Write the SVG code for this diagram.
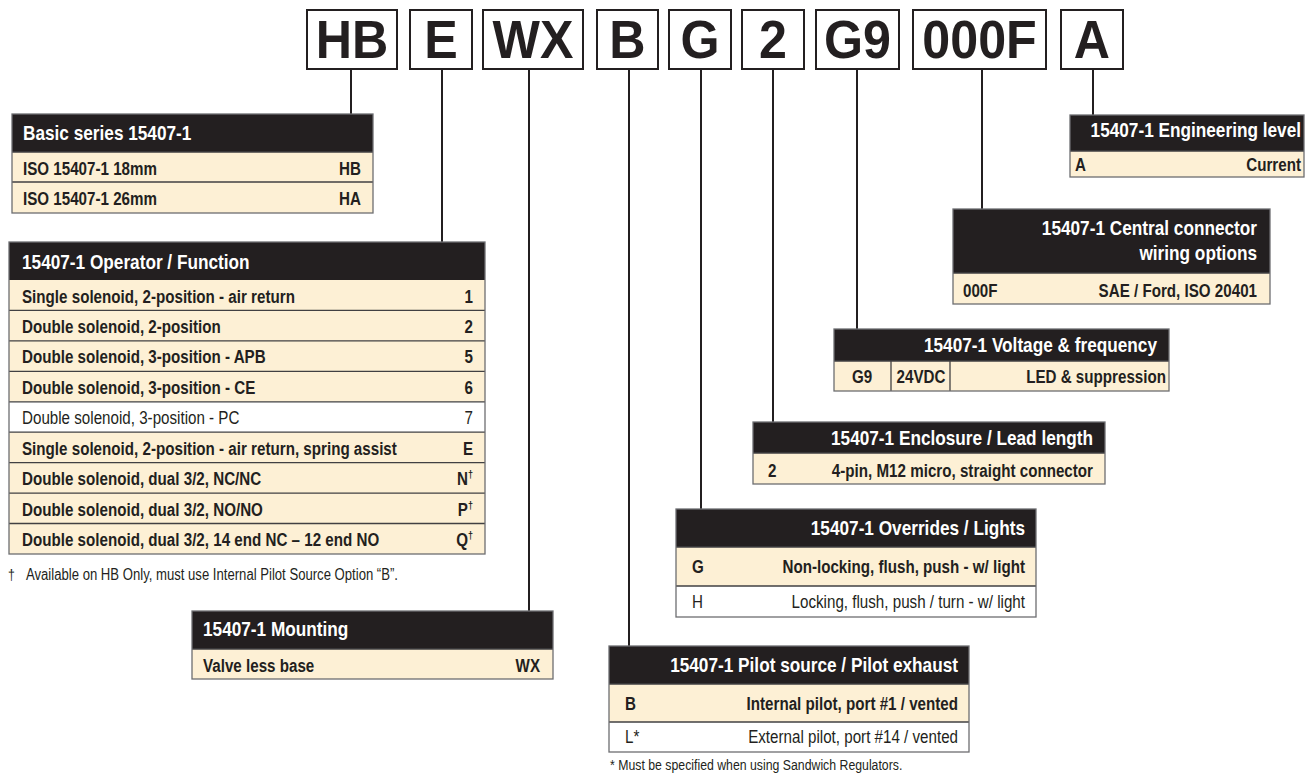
<svg xmlns="http://www.w3.org/2000/svg" width="1315" height="778" viewBox="0 0 1315 778">
<style>
.hd{fill:#231f20}
.cr{fill:#fdf0d5}
.wh{fill:#fff}
.bd{fill:none;stroke:#6d6e71;stroke-width:1.3}
.sep{stroke:#414042;stroke-width:1.3}
text{font-family:"Liberation Sans",Arial,sans-serif;fill:#231f20}
.th{font-weight:bold;font-size:21px;fill:#fff}
.tb{font-weight:bold;font-size:18.5px}
.tr{font-size:18.5px}
.fn{font-size:15px}
.e{text-anchor:end}
.m{text-anchor:middle}
.box{fill:#fff;stroke:#231f20;stroke-width:2}
.code{font-weight:bold;font-size:54px;text-anchor:middle}
.conn line{stroke:#231f20;stroke-width:2}
</style>

<g id="connectors" class="conn">
<line x1="351" y1="70" x2="351" y2="114"/>
<line x1="442" y1="70" x2="442" y2="242"/>
<line x1="529" y1="70" x2="529" y2="611"/>
<line x1="629" y1="70" x2="629" y2="646"/>
<line x1="701" y1="70" x2="701" y2="509"/>
<line x1="773" y1="70" x2="773" y2="422"/>
<line x1="857" y1="70" x2="857" y2="329"/>
<line x1="982" y1="70" x2="982" y2="209"/>
<line x1="1093" y1="70" x2="1093" y2="115"/>
</g>

<g id="code-HB"><rect class="box" x="307" y="10" width="90" height="59"/><text class="code" transform="translate(352 58) scale(.93 1)">HB</text></g>
<g id="code-E"><rect class="box" x="410" y="10" width="62" height="59"/><text class="code" transform="translate(441 58) scale(.93 1)">E</text></g>
<g id="code-WX"><rect class="box" x="483" y="10" width="100" height="59"/><text class="code" transform="translate(533 58) scale(.93 1)">WX</text></g>
<g id="code-B"><rect class="box" x="597" y="10" width="61" height="59"/><text class="code" transform="translate(627.5 58) scale(.93 1)">B</text></g>
<g id="code-G"><rect class="box" x="669" y="10" width="62" height="59"/><text class="code" transform="translate(700 58) scale(.93 1)">G</text></g>
<g id="code-2"><rect class="box" x="742" y="10" width="62" height="59"/><text class="code" transform="translate(773 58) scale(.93 1)">2</text></g>
<g id="code-G9"><rect class="box" x="816" y="10" width="83" height="59"/><text class="code" transform="translate(857.5 58) scale(.93 1)">G9</text></g>
<g id="code-000F"><rect class="box" x="913" y="10" width="133" height="59"/><text class="code" transform="translate(979.5 58) scale(.93 1)">000F</text></g>
<g id="code-A"><rect class="box" x="1061" y="10" width="62" height="59"/><text class="code" transform="translate(1092 58) scale(.93 1)">A</text></g>

<g id="basic-series">
<rect class="hd" x="12" y="114" width="361" height="38"/>
<rect class="cr" x="12" y="152" width="361" height="61"/>
<line class="sep" x1="12" y1="152" x2="373" y2="152"/>
<line class="sep" x1="12" y1="182" x2="373" y2="182"/>
<rect class="bd" x="12" y="114" width="361" height="99"/>
<text class="th" transform="translate(23 140) scale(.82 1)">Basic series 15407-1</text>
<text class="tb" transform="translate(23 175) scale(.82 1)">ISO 15407-1 18mm</text><text class="tb e" transform="translate(361 175) scale(.82 1)">HB</text>
<text class="tb" transform="translate(23 205) scale(.82 1)">ISO 15407-1 26mm</text><text class="tb e" transform="translate(361 205) scale(.82 1)">HA</text>
</g>

<g id="operator-function">
<rect class="hd" x="9" y="242" width="476" height="38"/>
<rect class="cr" x="9" y="280" width="476" height="121.8"/>
<rect class="wh" x="9" y="401.8" width="476" height="30.4"/>
<rect class="cr" x="9" y="432.2" width="476" height="121.8"/>
<line class="sep" x1="9" y1="310.4" x2="485" y2="310.4"/>
<line class="sep" x1="9" y1="340.9" x2="485" y2="340.9"/>
<line class="sep" x1="9" y1="371.3" x2="485" y2="371.3"/>
<line class="sep" x1="9" y1="401.8" x2="485" y2="401.8"/>
<line class="sep" x1="9" y1="432.2" x2="485" y2="432.2"/>
<line class="sep" x1="9" y1="462.6" x2="485" y2="462.6"/>
<line class="sep" x1="9" y1="493.1" x2="485" y2="493.1"/>
<line class="sep" x1="9" y1="523.5" x2="485" y2="523.5"/>
<rect class="bd" x="9" y="242" width="476" height="312"/>
<text class="th" transform="translate(22 269) scale(.82 1)">15407-1 Operator / Function</text>
<text class="tb" transform="translate(22 302.5) scale(.82 1)">Single solenoid, 2-position - air return</text><text class="tb e" transform="translate(473 302.5) scale(.82 1)">1</text>
<text class="tb" transform="translate(22 333) scale(.82 1)">Double solenoid, 2-position</text><text class="tb e" transform="translate(473 333) scale(.82 1)">2</text>
<text class="tb" transform="translate(22 363.4) scale(.82 1)">Double solenoid, 3-position - APB</text><text class="tb e" transform="translate(473 363.4) scale(.82 1)">5</text>
<text class="tb" transform="translate(22 393.8) scale(.82 1)">Double solenoid, 3-position - CE</text><text class="tb e" transform="translate(473 393.8) scale(.82 1)">6</text>
<text class="tr" transform="translate(22 424.3) scale(.82 1)">Double solenoid, 3-position - PC</text><text class="tr e" transform="translate(473 424.3) scale(.82 1)">7</text>
<text class="tb" transform="translate(22 454.7) scale(.82 1)">Single solenoid, 2-position - air return, spring assist</text><text class="tb e" transform="translate(473 454.7) scale(.82 1)">E</text>
<text class="tb" transform="translate(22 485.1) scale(.82 1)">Double solenoid, dual 3/2, NC/NC</text><text class="tb e" transform="translate(473 485.1) scale(.82 1)">N<tspan font-size="11" dy="-7">†</tspan></text>
<text class="tb" transform="translate(22 515.6) scale(.82 1)">Double solenoid, dual 3/2, NO/NO</text><text class="tb e" transform="translate(473 515.6) scale(.82 1)">P<tspan font-size="11" dy="-7">†</tspan></text>
<text class="tb" transform="translate(22 546) scale(.82 1)">Double solenoid, dual 3/2, 14 end NC – 12 end NO</text><text class="tb e" transform="translate(473 546) scale(.82 1)">Q<tspan font-size="11" dy="-7">†</tspan></text>
<text class="fn" font-size="16" transform="translate(8 580) scale(.82 1)">†</text>
<text class="fn" style="font-size:16px" transform="translate(26 580) scale(.82 1)">Available on HB Only, must use Internal Pilot Source Option “B”.</text>
</g>

<g id="mounting">
<rect class="hd" x="192" y="611" width="361" height="38"/>
<rect class="cr" x="192" y="649" width="361" height="30"/>
<line class="sep" x1="192" y1="649" x2="553" y2="649"/>
<rect class="bd" x="192" y="611" width="361" height="68"/>
<text class="th" transform="translate(203 636) scale(.82 1)">15407-1 Mounting</text>
<text class="tb" transform="translate(203 672) scale(.82 1)">Valve less base</text><text class="tb e" transform="translate(540 672) scale(.82 1)">WX</text>
</g>

<g id="pilot-source">
<rect class="hd" x="609" y="646" width="360" height="38"/>
<rect class="cr" x="609" y="684" width="360" height="38"/>
<rect class="wh" x="609" y="722" width="360" height="30"/>
<line class="sep" x1="609" y1="684" x2="969" y2="684"/>
<line class="sep" x1="609" y1="722" x2="969" y2="722"/>
<rect class="bd" x="609" y="646" width="360" height="106"/>
<text class="th e" transform="translate(958 672) scale(.82 1)">15407-1 Pilot source / Pilot exhaust</text>
<text class="tb" transform="translate(625 710) scale(.82 1)">B</text><text class="tb e" transform="translate(958 710) scale(.82 1)">Internal pilot, port #1 / vented</text>
<text class="tr" transform="translate(625 743) scale(.82 1)">L*</text><text class="tr e" transform="translate(958 743) scale(.82 1)">External pilot, port #14 / vented</text>
<text class="fn" transform="translate(610 770) scale(.82 1)">* Must be specified when using Sandwich Regulators.</text>
</g>

<g id="overrides-lights">
<rect class="hd" x="676" y="509" width="360" height="38"/>
<rect class="cr" x="676" y="547" width="360" height="39"/>
<rect class="wh" x="676" y="586" width="360" height="31"/>
<line class="sep" x1="676" y1="547" x2="1036" y2="547"/>
<line class="sep" x1="676" y1="586" x2="1036" y2="586"/>
<rect class="bd" x="676" y="509" width="360" height="108"/>
<text class="th e" transform="translate(1025 535) scale(.82 1)">15407-1 Overrides / Lights</text>
<text class="tb" transform="translate(692 573) scale(.82 1)">G</text><text class="tb e" transform="translate(1025 573) scale(.82 1)">Non-locking, flush, push - w/ light</text>
<text class="tr" transform="translate(692 608) scale(.82 1)">H</text><text class="tr e" transform="translate(1025 608) scale(.82 1)">Locking, flush, push / turn - w/ light</text>
</g>

<g id="enclosure-lead">
<rect class="hd" x="753" y="422" width="352" height="31"/>
<rect class="cr" x="753" y="453" width="352" height="31"/>
<line class="sep" x1="753" y1="453" x2="1105" y2="453"/>
<rect class="bd" x="753" y="422" width="352" height="62"/>
<text class="th e" transform="translate(1093 445) scale(.82 1)">15407-1 Enclosure / Lead length</text>
<text class="tb" transform="translate(768 477) scale(.82 1)">2</text><text class="tb e" transform="translate(1093 477) scale(.82 1)">4-pin, M12 micro, straight connector</text>
</g>

<g id="voltage-frequency">
<rect class="hd" x="834" y="329" width="335" height="32"/>
<rect class="cr" x="834" y="361" width="335" height="30"/>
<line class="sep" x1="834" y1="361" x2="1169" y2="361"/>
<line class="sep" x1="891" y1="361" x2="891" y2="391"/>
<line class="sep" x1="950" y1="361" x2="950" y2="391"/>
<rect class="bd" x="834" y="329" width="335" height="62"/>
<text class="th e" transform="translate(1157 352) scale(.82 1)">15407-1 Voltage &amp; frequency</text>
<text class="tb m" transform="translate(862 383) scale(.82 1)">G9</text>
<text class="tb m" transform="translate(921 383) scale(.82 1)">24VDC</text>
<text class="tb e" transform="translate(1166 383) scale(.82 1)">LED &amp; suppression</text>
</g>

<g id="central-connector">
<rect class="hd" x="953" y="209" width="317" height="64"/>
<rect class="cr" x="953" y="273" width="317" height="31"/>
<line class="sep" x1="953" y1="273" x2="1270" y2="273"/>
<rect class="bd" x="953" y="209" width="317" height="95"/>
<text class="th e" transform="translate(1257 235) scale(.82 1)">15407-1 Central connector</text>
<text class="th e" transform="translate(1257 260) scale(.82 1)">wiring options</text>
<text class="tb" transform="translate(963 297) scale(.82 1)">000F</text><text class="tb e" transform="translate(1257 297) scale(.82 1)">SAE / Ford, ISO 20401</text>
</g>

<g id="engineering-level">
<rect class="hd" x="1070" y="115" width="234" height="36"/>
<rect class="cr" x="1070" y="151" width="234" height="26"/>
<line class="sep" x1="1070" y1="151" x2="1304" y2="151"/>
<rect class="bd" x="1070" y="115" width="234" height="62"/>
<text class="th e" transform="translate(1301 137) scale(.82 1)">15407-1 Engineering level</text>
<text class="tb" transform="translate(1075 171) scale(.82 1)">A</text><text class="tb e" transform="translate(1301 171) scale(.82 1)">Current</text>
</g>
</svg>
